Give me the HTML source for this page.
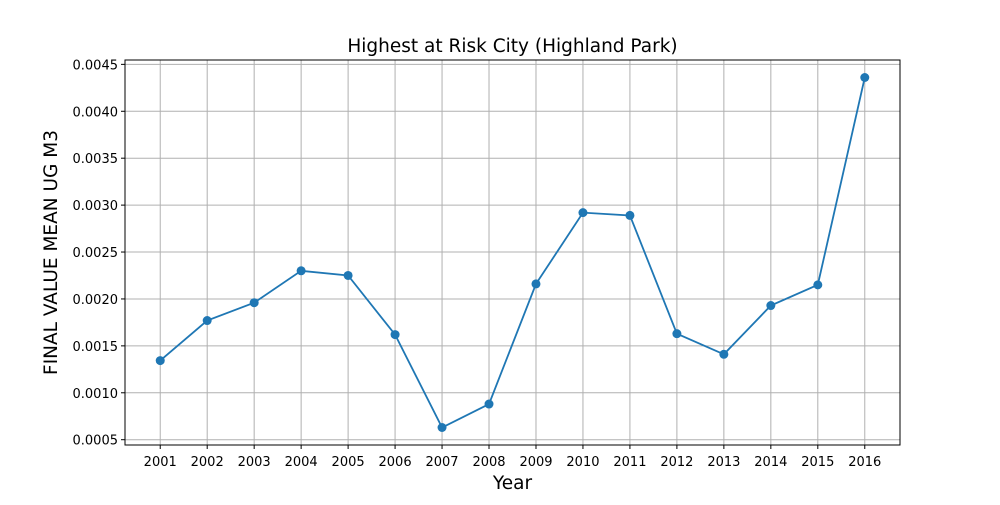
<!DOCTYPE html>
<html><head><meta charset="utf-8"><style>
html,body{margin:0;padding:0;background:#fff;}
svg text{font-family:"DejaVu Sans","Liberation Sans",sans-serif;fill:#000;}
</style></head><body>
<svg id="chart" width="1000" height="500" xmlns="http://www.w3.org/2000/svg">
<rect width="1000" height="500" fill="#fff"/>
<g id="grid"></g>
<g id="ticks"></g>
<g id="series"></g>
<rect x="125" y="60" width="775" height="385" fill="none" stroke="#000" stroke-width="1"/>
<text x="512.5" y="52" font-size="18.5" text-anchor="middle">Highest at Risk City (Highland Park)</text>
<text x="512.5" y="489" font-size="18.5" text-anchor="middle">Year</text>
<text transform="translate(57,252.5) rotate(-90)" font-size="18.5" text-anchor="middle">FINAL VALUE MEAN UG M3</text>
</svg>
<script>
const years = ["2001","2002","2003","2004","2005","2006","2007","2008","2009","2010","2011","2012","2013","2014","2015","2016"];
const values = [0.001343,0.00177,0.00196,0.0023,0.00225,0.00162,0.00063,0.00088,0.00216,0.00292,0.00289,0.00163,0.00141,0.00193,0.00215,0.00436];
const yTicks = [0.0005,0.0010,0.0015,0.0020,0.0025,0.0030,0.0035,0.0040,0.0045];
const yTickLabels = ["0.0005","0.0010","0.0015","0.0020","0.0025","0.0030","0.0035","0.0040","0.0045"];

const L=125,R=900,T=60,B=445;
const n=years.length;
const xMin=-0.75,xMax=n-1+0.75;
const vmin=Math.min(...values),vmax=Math.max(...values),pad=(vmax-vmin)*0.05;
const yMin=vmin-pad,yMax=vmax+pad;
const xs=i=>L+(i-xMin)/(xMax-xMin)*(R-L);
const ys=v=>B-(v-yMin)/(yMax-yMin)*(B-T);
const NS="http://www.w3.org/2000/svg";
function mk(tag,attrs,parent){const e=document.createElementNS(NS,tag);for(const k in attrs)e.setAttribute(k,attrs[k]);parent.appendChild(e);return e;}
const grid=document.getElementById('grid'),ticks=document.getElementById('ticks'),series=document.getElementById('series');
years.forEach((y,i)=>{
  const x=xs(i);
  const g=mk('line',{x1:x,x2:x,y1:T,y2:B,stroke:'#b0b0b0','stroke-width':1},grid);
  
  
  const t=mk('line',{x1:x,x2:x,y1:B,y2:B+4,stroke:'#000'},ticks);
  
  
  const l=mk('text',{x:x,y:B+21,'font-size':13,'text-anchor':'middle'},ticks);
  l.textContent=y;
  
  
});
yTicks.forEach((v,i)=>{
  const y=ys(v);
  const g=mk('line',{x1:L,x2:R,y1:y,y2:y,stroke:'#b0b0b0','stroke-width':1},grid);
  
  
  const t=mk('line',{x1:L-4,x2:L,y1:y,y2:y,stroke:'#000'},ticks);
  
  
  const l=mk('text',{x:L-7,y:y+5,'font-size':13,'text-anchor':'end'},ticks);
  l.textContent=yTickLabels[i];
  
  
});
const pts=values.map((v,i)=>xs(i)+','+ys(v)).join(' ');
const pl=mk('polyline',{points:pts,fill:'none',stroke:'#1f77b4','stroke-width':1.8},series);


values.forEach((v,i)=>{
  const c=mk('circle',{cx:xs(i),cy:ys(v),r:4.5,fill:'#1f77b4'},series);
  
  
});
</script>
</body></html>
